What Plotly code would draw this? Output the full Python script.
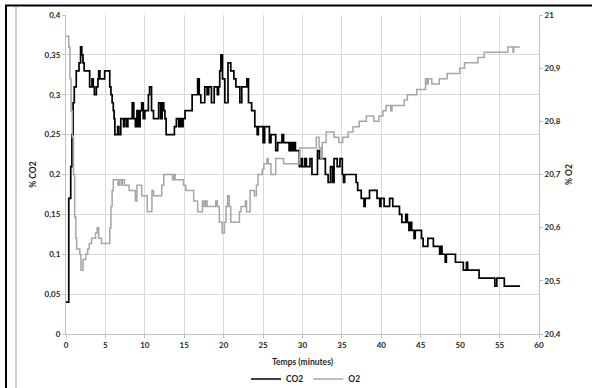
import plotly.graph_objects as go

# ---------------- data ----------------
co2_t = [0, 0.35, 0.6, 0.75, 0.9, 1.05, 1.3, 1.65, 1.85, 2.0, 2.15, 2.3, 3.0, 3.3, 3.45, 3.6, 3.85,
         4.05, 4.15, 4.3, 4.9, 5.55, 5.7, 5.85, 6.0, 6.1, 6.2, 6.55, 6.7, 6.95, 7.3, 7.45, 7.7, 7.85,
         8.4, 8.6, 8.8, 9.0, 9.2, 9.4, 9.6, 9.8, 10.0, 10.45, 10.6, 10.85, 11.1, 11.75, 12.0, 12.2,
         12.4, 12.55, 12.7, 13.75, 14.0, 14.3, 14.5, 14.7, 14.85, 15.1, 16.0, 16.7, 16.9, 17.1, 17.6,
         17.9, 18.1, 18.45, 18.8, 19.2, 19.35, 19.5, 19.65, 19.85, 20.15, 20.55, 20.9, 21.3, 21.55,
         22.05, 22.3, 22.95, 23.15, 23.55, 23.95, 24.25, 24.4, 25.0, 25.2, 25.8, 26.0, 26.6, 26.85,
         27.4, 27.6, 28.3, 28.5, 28.7, 28.9, 29.1, 29.6, 29.85, 30.0, 30.3, 30.5, 30.95, 31.2, 31.9,
         32.15, 32.9, 33.25, 33.55, 33.8, 34.0, 34.4, 34.75, 35.05, 35.2, 35.35, 36.8, 37.0, 37.45,
         37.8, 37.95, 38.5, 39.45, 39.8, 39.95, 40.35, 41.05, 41.45, 42.3, 42.6, 43.1, 43.3, 43.5,
         43.7, 43.85, 44.15, 44.3, 45.1, 45.3, 45.9, 46.6, 47.4, 47.55, 47.7, 48.1, 48.25, 49.4,
         50.4, 50.8, 50.95, 52.4, 54.4, 54.65, 55.6, 57.6]
co2_v = [0.04, 0.17, 0.21, 0.25, 0.29, 0.31, 0.33, 0.34, 0.36, 0.35, 0.34, 0.33, 0.31, 0.32, 0.31, 0.30, 0.31,
         0.32, 0.33, 0.32, 0.33, 0.31, 0.30, 0.29, 0.28, 0.27, 0.25, 0.26, 0.25, 0.27, 0.26, 0.27, 0.26, 0.27,
         0.29, 0.27, 0.26, 0.28, 0.26, 0.28, 0.29, 0.27, 0.28, 0.30, 0.31, 0.28, 0.27, 0.29, 0.27, 0.29,
         0.28, 0.27, 0.25, 0.26, 0.27, 0.26, 0.27, 0.26, 0.27, 0.28, 0.30, 0.32, 0.30, 0.29, 0.31,
         0.30, 0.31, 0.29, 0.31, 0.30, 0.31, 0.33, 0.35, 0.32, 0.29, 0.34, 0.33, 0.32, 0.31,
         0.29, 0.31, 0.32, 0.29, 0.28, 0.26, 0.25, 0.26, 0.24, 0.26, 0.24, 0.25, 0.23, 0.24,
         0.25, 0.24, 0.23, 0.24, 0.23, 0.24, 0.23, 0.21, 0.22, 0.21, 0.22, 0.21, 0.22, 0.20, 0.23,
         0.22, 0.20, 0.19, 0.21, 0.19, 0.22, 0.21, 0.22, 0.20, 0.19, 0.20, 0.19, 0.18, 0.17,
         0.16, 0.17, 0.18, 0.17, 0.16, 0.17, 0.16, 0.17, 0.16, 0.15, 0.14, 0.15, 0.14, 0.13,
         0.14, 0.13, 0.12, 0.13, 0.12, 0.11, 0.12, 0.11, 0.10, 0.11, 0.10, 0.09, 0.10, 0.09,
         0.08, 0.09, 0.08, 0.07, 0.06, 0.07, 0.06, 0.06]

o2_t = [0, 0.35, 0.5, 0.65, 0.8, 0.95, 1.1, 1.25, 1.35, 1.75, 1.9, 2.15, 2.5, 2.75, 2.95, 3.25, 3.75,
        3.95, 4.15, 4.5, 5.55, 5.7, 5.85, 6.0, 6.6, 6.75, 7.0, 7.15, 7.4, 8.0, 8.8, 9.0, 9.6, 10.3,
        10.9, 11.1, 12.15, 12.4, 13.5, 13.7, 13.85, 14.9, 15.2, 16.2, 16.7, 17.3, 17.5, 17.7, 17.9,
        19.0, 19.2, 19.45, 19.8, 20.1, 20.3, 20.5, 20.7, 20.9, 22.0, 22.2, 22.75, 22.9, 23.35, 23.9,
        24.15, 24.35, 24.9, 25.1, 25.5, 25.65, 26.0, 26.6, 27.6, 29.65, 31.75, 32.1, 32.35, 32.5,
        33.0, 34.0, 34.6, 35.1, 35.8, 36.4, 37.2, 38.1, 39.05, 39.7, 40.2, 40.6, 41.2, 41.35, 42.9,
        43.3, 44.5, 45.6, 45.8, 45.95, 46.4, 47.35, 48.35, 49.95, 50.55, 52.25, 53.05, 56.05, 56.7,
        56.8, 57.6]
o2_v = [20.96, 20.94, 20.88, 20.82, 20.77, 20.70, 20.62, 20.58, 20.56, 20.55, 20.52, 20.54, 20.55, 20.56, 20.57, 20.58, 20.59,
        20.60, 20.58, 20.57, 20.60, 20.64, 20.67, 20.69, 20.68, 20.69, 20.68, 20.69, 20.68, 20.67, 20.65, 20.68, 20.66, 20.63,
        20.67, 20.66, 20.68, 20.70, 20.69, 20.70, 20.69, 20.68, 20.67, 20.65, 20.63, 20.65, 20.64, 20.65, 20.64,
        20.65, 20.64, 20.61, 20.59, 20.61, 20.64, 20.66, 20.64, 20.61, 20.63, 20.64, 20.65, 20.63, 20.67, 20.66,
        20.68, 20.70, 20.71, 20.72, 20.73, 20.72, 20.70, 20.73, 20.72, 20.75, 20.77, 20.75, 20.73, 20.76,
        20.78, 20.77, 20.76, 20.77, 20.78, 20.79, 20.80, 20.81, 20.80, 20.81, 20.82, 20.83, 20.82, 20.83, 20.84,
        20.85, 20.86, 20.88, 20.87, 20.88, 20.87, 20.88, 20.89, 20.90, 20.91, 20.92, 20.93, 20.94, 20.93,
        20.94, 20.94]

x_ticks = [0, 5, 10, 15, 20, 25, 30, 35, 40, 45, 50, 55, 60]
y1_ticks = [0, 0.05, 0.1, 0.15, 0.2, 0.25, 0.3, 0.35, 0.4]
y1_labels = ["0", "0,05", "0,1", "0,15", "0,2", "0,25", "0,3", "0,35", "0,4"]
y2_ticks = [20.4, 20.5, 20.6, 20.7, 20.8, 20.9, 21.0]
y2_labels = ["20,4", "20,5", "20,6", "20,7", "20,8", "20,9", "21"]

# ---------------- layout geometry ----------------
W, H = 592, 388
ML, MR, MT, MB = 66, 53, 15, 54


def px(x):
    return (x - ML) / (W - ML - MR)


def py(y):
    return (H - MB - y) / (H - MT - MB)


FONT = "Lato"
TXT = "#1f1f1f"
GRID = "#d9d9d9"
AXL = "#bfbfbf"

fig = go.Figure()
fig.add_trace(go.Scatter(x=co2_t, y=co2_v, name="CO2", mode="lines", line_shape="hv",
                         line=dict(color="#000000", width=1.7), yaxis="y"))
fig.add_trace(go.Scatter(x=o2_t, y=o2_v, name="O2", mode="lines", line_shape="hv",
                         line=dict(color="#a6a6a6", width=1.5), yaxis="y2"))

tickfont = dict(family=FONT, size=8, color=TXT, weight="bold")
titlefont = dict(family=FONT, size=8.5, color=TXT, weight="bold")

fig.update_layout(
    width=W, height=H,
    margin=dict(l=ML, r=MR, t=MT, b=MB, autoexpand=False),
    paper_bgcolor="white", plot_bgcolor="white",
    showlegend=True,
    legend=dict(orientation="h", x=px(306), xanchor="center", y=py(379), yanchor="middle",
                font=dict(family=FONT, size=8.5, color=TXT, weight="bold"),
                itemwidth=30, tracegroupgap=0, bgcolor="rgba(0,0,0,0)"),
    xaxis=dict(range=[0, 60], tickvals=x_ticks, ticks="outside", ticklen=3, tickcolor=AXL,
               showgrid=True, gridcolor=GRID, gridwidth=1, zeroline=False,
               showline=True, linecolor=AXL, linewidth=1,
               tickfont=tickfont,
               title=dict(text="Temps (minutes)", font=titlefont, standoff=10)),
    yaxis=dict(range=[0, 0.4], tickvals=y1_ticks, ticktext=y1_labels, ticks="outside", ticklen=3,
               tickcolor=AXL, showgrid=True, gridcolor=GRID, gridwidth=1, zeroline=False,
               showline=True, linecolor=AXL, linewidth=1, tickfont=tickfont,
               title=dict(text="% CO2", font=titlefont, standoff=6)),
    yaxis2=dict(range=[20.4, 21.0], tickvals=y2_ticks, ticktext=y2_labels, overlaying="y", side="right",
                ticks="outside", ticklen=3, tickcolor=AXL, showgrid=False, zeroline=False,
                showline=True, linecolor=AXL, linewidth=1, tickfont=tickfont,
                title=dict(text="% O2", font=titlefont, standoff=6)),
)

# frame of the original picture
fig.add_shape(type="line", xref="paper", yref="paper", x0=px(5), x1=px(592), y0=py(5.5), y1=py(5.5),
              line=dict(color="#000000", width=2))
fig.add_shape(type="line", xref="paper", yref="paper", x0=px(6), x1=px(6), y0=py(5.5), y1=py(388),
              line=dict(color="#000000", width=2))
fig.add_shape(type="line", xref="paper", yref="paper", x0=px(16), x1=px(16), y0=py(6.5), y1=py(388),
              line=dict(color="#9a9a9a", width=1))

fig.write_html("out.html")
